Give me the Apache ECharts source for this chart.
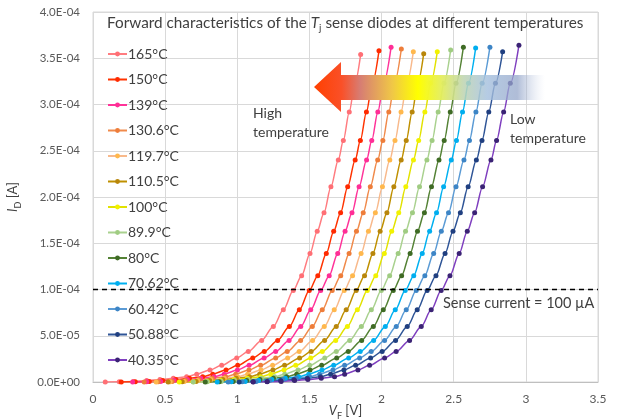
<!DOCTYPE html>
<html>
<head>
<meta charset="utf-8">
<script src="https://cdn.jsdelivr.net/npm/echarts@6/dist/echarts.min.js"></script>
<style>
  html, body { margin: 0; padding: 0; background: #ffffff; }
  #chart { width: 617px; height: 419px; }
</style>
</head>
<body>
<div id="chart"></div>
<script>
// Junction temperatures of the sense-diode sweeps
const temps = ['165°C', '150°C', '139°C', '130.6°C', '119.7°C', '110.5°C', '100°C',
               '89.9°C', '80°C', '70.62°C', '60.42°C', '50.88°C', '40.35°C'];

// Forward current steps shared by the sweeps (µA); last point of each sweep in idLast
const idSteps = [0, 0.2, 0.6, 1.5, 2.7, 4.0, 5.7, 8.5, 13, 18, 26, 33, 45, 60, 78, 99,
                 115, 139, 163, 183, 211, 240, 261, 292, 323];
const idLast = [354, 358, 362, 360, 357, 355, 357, 359, 362, 361, 362, 357, 364];

// Forward voltage (V) for each temperature
const vf165 = [0.085,0.182,0.279,0.372,0.464,0.557,0.649,0.719,0.811,0.892,0.996,1.076,1.169,1.25,1.319,1.388,1.446,1.504,1.554,1.601,1.649,1.70,1.735,1.776,1.815,1.855];
const vf150 = [0.196,0.293,0.390,0.483,0.575,0.668,0.760,0.830,0.922,1.003,1.107,1.187,1.280,1.361,1.430,1.499,1.558,1.617,1.668,1.716,1.765,1.817,1.853,1.895,1.936,1.982];
const vf139 = [0.275,0.372,0.469,0.562,0.654,0.747,0.839,0.909,1.001,1.082,1.186,1.266,1.359,1.44,1.509,1.578,1.637,1.696,1.747,1.795,1.844,1.896,1.932,1.974,2.015,2.066];
const vf130 = [0.355,0.452,0.549,0.642,0.734,0.827,0.919,0.989,1.081,1.162,1.266,1.346,1.439,1.52,1.589,1.658,1.717,1.775,1.826,1.873,1.922,1.973,2.009,2.05,2.089,2.137];
const vf119 = [0.438,0.535,0.632,0.725,0.817,0.91,1.002,1.072,1.164,1.245,1.349,1.429,1.522,1.603,1.672,1.741,1.799,1.858,1.909,1.957,2.006,2.057,2.093,2.135,2.175,2.22];
const vf110 = [0.521,0.618,0.715,0.808,0.90,0.993,1.085,1.155,1.247,1.328,1.432,1.512,1.605,1.686,1.755,1.824,1.882,1.94,1.99,2.037,2.085,2.136,2.171,2.212,2.251,2.292];
const vf100 = [0.598,0.695,0.792,0.885,0.977,1.07,1.162,1.232,1.324,1.405,1.509,1.589,1.682,1.763,1.832,1.901,1.960,2.019,2.070,2.119,2.168,2.221,2.257,2.300,2.340,2.386];
const vf89 = [0.695,0.792,0.889,0.982,1.074,1.167,1.259,1.329,1.421,1.502,1.606,1.686,1.779,1.86,1.929,1.998,2.056,2.115,2.166,2.214,2.263,2.314,2.35,2.392,2.432,2.479];
const vf80 = [0.778,0.875,0.972,1.065,1.157,1.25,1.342,1.412,1.504,1.585,1.689,1.769,1.862,1.943,2.012,2.081,2.139,2.198,2.249,2.297,2.346,2.398,2.434,2.476,2.516,2.567];
const vf70 = [0.861,0.958,1.055,1.148,1.24,1.333,1.425,1.495,1.587,1.668,1.772,1.852,1.945,2.026,2.095,2.164,2.223,2.282,2.333,2.381,2.43,2.483,2.519,2.561,2.602,2.652];
const vf60 = [0.937,1.034,1.131,1.224,1.316,1.409,1.501,1.571,1.663,1.744,1.848,1.928,2.021,2.102,2.171,2.24,2.30,2.361,2.414,2.464,2.516,2.571,2.609,2.654,2.697,2.751];
const vf50 = [1.013,1.11,1.207,1.30,1.392,1.485,1.577,1.647,1.739,1.82,1.924,2.004,2.097,2.178,2.247,2.316,2.377,2.44,2.495,2.546,2.60,2.657,2.696,2.743,2.789,2.839];
const vf40 = [1.11,1.207,1.304,1.397,1.489,1.582,1.674,1.744,1.836,1.917,2.021,2.101,2.194,2.275,2.344,2.413,2.474,2.538,2.594,2.645,2.70,2.758,2.797,2.846,2.892,2.952];

const vfCurves = [vf165, vf150, vf139, vf130, vf119, vf110, vf100, vf89, vf80, vf70, vf60, vf50, vf40];

// Sense current level (µA)
const senseCurrent = 100;

// Axis ranges
const xTicks = [0, 0.5, 1, 1.5, 2, 2.5, 3, 3.5];
const yMax = 4e-4, yStep = 5e-5;

const lineColors = ['#FF7C80', '#FF3300', '#FF3399', '#F08A4B', '#F8B98B', '#BF9000', '#E2E200',
                    '#A9D18E', '#548235', '#00B0F0', '#5B9BD5', '#2F5597', '#7F3FBF'];
const dotColors  = ['#FF6F75', '#FF2A00', '#FF2E96', '#EE7D3A', '#FFB84D', '#B8860B', '#F2F200',
                    '#A0CC82', '#3F6B25', '#00AEEF', '#3D85C6', '#203F80', '#3B2375'];

const FONT = 'Lato, "Open Sans", sans-serif';

const series = vfCurves.map((vf, k) => {
  const ids = idSteps.concat([idLast[k]]);
  return {
    name: temps[k],
    type: 'line',
    data: vf.map((v, i) => [v, ids[i] * 1e-6]),
    smooth: 0.3,
    smoothMonotone: 'x',
    symbol: 'circle',
    symbolSize: 5,
    showSymbol: true,
    lineStyle: { color: lineColors[k], width: 1.5 },
    itemStyle: { color: dotColors[k], borderWidth: 0 },
    z: 3
  };
});

// Dashed sense-current level across the full voltage range
series.push({
  name: 'sense',
  type: 'line',
  data: [[xTicks[0], senseCurrent * 1e-6], [xTicks[xTicks.length - 1], senseCurrent * 1e-6]],
  symbol: 'none',
  lineStyle: { color: '#000000', width: 1.5, type: [5, 4] },
  silent: true,
  z: 4
});

function sciLabel(v) {
  if (v === 0) return '0.0E+00';
  const e = Math.floor(Math.log10(v) + 1e-9);
  const m = v / Math.pow(10, e);
  const ea = Math.abs(e);
  return m.toFixed(1) + 'E' + (e < 0 ? '-' : '+') + (ea < 10 ? '0' : '') + ea;
}

const chart = echarts.init(document.getElementById('chart'), null, { renderer: 'canvas' });

chart.setOption({
  animation: false,
  backgroundColor: '#ffffff',
  title: {
    text: 'Forward characteristics of the {i|T}{sub|j} sense diodes at different temperatures',
    left: 102,
    top: 8,
    textStyle: {
      fontFamily: FONT, fontSize: 15.3, fontWeight: 'normal', color: '#404040',
      rich: {
        i: { fontFamily: FONT, fontSize: 15.3, fontStyle: 'italic', color: '#404040' },
        sub: { fontFamily: FONT, fontSize: 10, color: '#404040', verticalAlign: 'bottom', lineHeight: 20 }
      }
    }
  },
  grid: {
    left: 93, right: 19, top: 12, bottom: 37,
    outerBoundsMode: 'none',
    show: true, borderColor: '#d9d9d9', borderWidth: 1
  },
  legend: {
    data: temps,
    orient: 'vertical',
    left: 102,
    top: 42,
    itemWidth: 19,
    itemHeight: 6,
    itemGap: 11.5,
    textStyle: { fontFamily: FONT, fontSize: 14, color: '#404040', padding: [0, 0, 0, -4] }
  },
  xAxis: {
    type: 'value',
    min: xTicks[0],
    max: xTicks[xTicks.length - 1],
    interval: 0.5,
    name: '{i|V}{sub|F} [V]',
    nameLocation: 'middle',
    nameGap: 19,
    nameMoveOverlap: false,
    nameTextStyle: {
      fontFamily: FONT, fontSize: 13, color: '#404040',
      rich: {
        i: { fontFamily: FONT, fontSize: 13, fontStyle: 'italic', color: '#404040' },
        sub: { fontFamily: FONT, fontSize: 9, color: '#404040', verticalAlign: 'bottom', lineHeight: 20 }
      }
    },
    axisLine: { show: true, lineStyle: { color: '#bfbfbf', width: 1 } },
    axisTick: { show: false },
    axisLabel: { fontFamily: FONT, fontSize: 12, color: '#595959', margin: 11 },
    splitLine: { show: true, lineStyle: { color: '#d9d9d9', width: 1 } }
  },
  yAxis: {
    type: 'value',
    min: 0,
    max: yMax,
    interval: yStep,
    name: '{i|I}{sub|D} [A]',
    nameLocation: 'middle',
    nameRotate: 90,
    nameGap: 70,
    nameMoveOverlap: false,
    nameTextStyle: {
      fontFamily: FONT, fontSize: 13, color: '#404040',
      rich: {
        i: { fontFamily: FONT, fontSize: 13, fontStyle: 'italic', color: '#404040' },
        sub: { fontFamily: FONT, fontSize: 9, color: '#404040', verticalAlign: 'bottom', lineHeight: 20 }
      }
    },
    axisLine: { show: false },
    axisTick: { show: false },
    axisLabel: { fontFamily: FONT, fontSize: 11.5, color: '#595959', margin: 13, formatter: sciLabel },
    splitLine: { show: true, lineStyle: { color: '#d9d9d9', width: 1 } }
  },
  graphic: [
    {
      type: 'polygon',
      z: 100,
      shape: {
        points: [[314, 87], [341, 62], [341, 75], [545, 75], [545, 100], [341, 100], [341, 112]]
      },
      style: {
        fill: new echarts.graphic.LinearGradient(0, 0, 1, 0, [
          { offset: 0.00, color: 'rgba(255,64,0,1)' },
          { offset: 0.12, color: 'rgba(250,80,40,1)' },
          { offset: 0.20, color: 'rgba(215,125,115,1)' },
          { offset: 0.34, color: 'rgba(240,200,70,1)' },
          { offset: 0.45, color: 'rgba(255,255,0,1)' },
          { offset: 0.55, color: 'rgba(228,238,90,0.95)' },
          { offset: 0.65, color: 'rgba(190,212,180,0.88)' },
          { offset: 0.75, color: 'rgba(165,192,222,0.82)' },
          { offset: 0.88, color: 'rgba(145,163,200,0.72)' },
          { offset: 1.00, color: 'rgba(210,218,235,0)' }
        ])
      }
    },
    {
      type: 'text', left: 253, top: 104, z: 100,
      style: { text: 'High\ntemperature', fontFamily: FONT, fontSize: 14, lineHeight: 19, fill: '#404040' }
    },
    {
      type: 'text', left: 510, top: 110, z: 100,
      style: { text: 'Low\ntemperature', fontFamily: FONT, fontSize: 14, lineHeight: 19, fill: '#404040' }
    },
    {
      type: 'text', left: 443, top: 296, z: 100,
      style: { text: 'Sense current = ' + senseCurrent + ' µA', fontFamily: FONT, fontSize: 14.5, fill: '#404040' }
    }
  ],
  series: series
});
</script>
</body>
</html>
